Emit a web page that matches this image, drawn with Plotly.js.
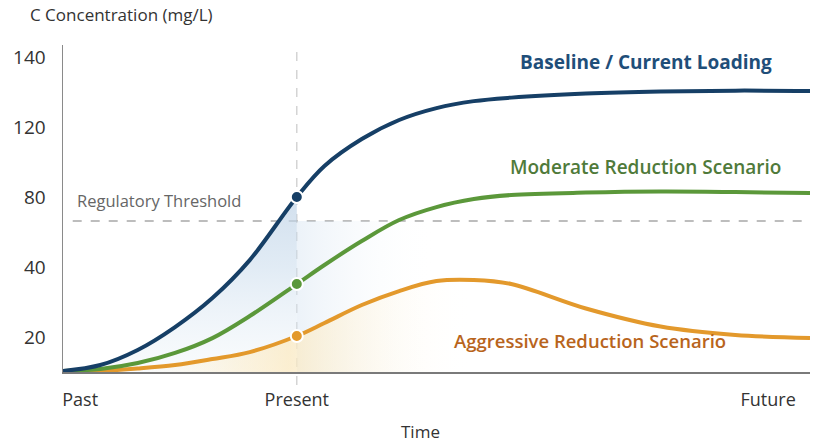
<!DOCTYPE html>
<html>
<head>
<meta charset="utf-8">
<script src="https://cdn.plot.ly/plotly-3.0.1.min.js"></script>
<style>
html,body{margin:0;padding:0;background:#fff;}
#chart{width:815px;height:443px;}
</style>
</head>
<body>
<div id="chart"></div>
<script>
// Time positions (0 = Past, 100 = right end of the time axis); Present = 31.3
const presentX = 31.3;
const time       = [0, 5, 10, 15, 20, 25, 31.3, 35, 40, 45, 50, 55, 60, 70, 80, 90, 100];
const baseline   = [0.6, 4.0, 12.6, 25.7, 42.3, 64.0, 100.1, 117.8, 133.2, 144.1, 150.9, 154.9, 156.9, 159.2, 160.4, 160.9, 160.7];
const moderate   = [0.6, 1.7, 5.1, 10.9, 19.4, 32.0, 50.3, 61.2, 74.9, 86.9, 94.3, 98.9, 101.2, 102.6, 103.2, 102.9, 102.3];
const aggressive = [0, 0.6, 2.0, 4.0, 7.4, 11.4, 20.6, 28.0, 38.3, 46.3, 52.0, 52.6, 50.3, 36.3, 26.0, 21.2, 19.4];

const thresholdY = 86.3;

const yTickVals = [20, 60, 100, 140, 180];
const yTickText = ['20', '40', '80', '120', '140'];
const xTickVals = [2.3, 31.3, 94.4];
const xTickText = ['Past', 'Present', 'Future'];

const blue = '#163f66', green = '#5b983a', orange = '#e3992c';
const presentIdx = time.indexOf(presentX);

function between(xs, ys, a, b) {
  const ox = [], oy = [];
  for (let i = 0; i < xs.length; i++) if (xs[i] >= a && xs[i] <= b) { ox.push(xs[i]); oy.push(ys[i]); }
  return [ox, oy];
}

const [bfx, bfy] = between(time, baseline, 0, presentX);
const fillBlue = {
  x: bfx, y: bfy, type: 'scatter', mode: 'none', fill: 'tozeroy', line: {shape: 'spline', smoothing: 1},
  fillgradient: {type: 'vertical', colorscale: [[0, 'rgba(235,242,248,0.3)'], [0.6, 'rgba(205,222,238,0.6)'], [1, 'rgba(190,210,230,0.7)']]},
  hoverinfo: 'skip', showlegend: false
};
const hazeBlue = {
  x: [presentX, 50], y: [thresholdY, thresholdY], type: 'scatter', mode: 'none', fill: 'tozeroy',
  fillgradient: {type: 'horizontal', colorscale: [[0, 'rgba(210,225,240,0.42)'], [1, 'rgba(255,255,255,0)']]},
  hoverinfo: 'skip', showlegend: false
};
const [ofx, ofy] = between(time, aggressive, 10, 55);
const fillOrange = {
  x: ofx, y: ofy, type: 'scatter', mode: 'none', fill: 'tozeroy', line: {shape: 'spline', smoothing: 1},
  fillgradient: {type: 'horizontal', colorscale: [[0, 'rgba(253,236,196,0)'], [0.45, 'rgba(253,232,185,0.65)'], [1, 'rgba(255,255,255,0)']]},
  hoverinfo: 'skip', showlegend: false
};

function lineTrace(y, color) {
  return {x: time, y: y, type: 'scatter', mode: 'lines',
    line: {color: color, width: 4, shape: 'spline', smoothing: 1},
    hoverinfo: 'skip', showlegend: false};
}
function markerTrace(y, color) {
  return {x: [presentX], y: [y[presentIdx]], type: 'scatter', mode: 'markers',
    marker: {color: color, size: 12, line: {color: '#fff', width: 2}},
    hoverinfo: 'skip', showlegend: false};
}

const data = [
  hazeBlue, fillBlue, fillOrange,
  lineTrace(aggressive, orange),
  lineTrace(moderate, green),
  lineTrace(baseline, blue),
  markerTrace(aggressive, orange),
  markerTrace(moderate, green),
  markerTrace(baseline, blue)
];

const layout = {
  width: 815, height: 443,
  margin: {l: 63, r: 5, t: 45, b: 71},
  paper_bgcolor: '#fff', plot_bgcolor: '#fff',
  font: {family: 'Open Sans, sans-serif', color: '#333'},
  showlegend: false,
  xaxis: {
    range: [0, 100], showgrid: false, zeroline: false,
    showline: true, linecolor: '#7a7a7a', linewidth: 1.5,
    tickvals: xTickVals, ticktext: xTickText, ticks: '',
    ticklabelstandoff: 11, tickfont: {size: 18, color: '#333'},
    fixedrange: true
  },
  yaxis: {
    range: [0, 187], showgrid: false, zeroline: false,
    showline: true, linecolor: '#8a8a8a', linewidth: 1.5,
    tickvals: yTickVals, ticktext: yTickText, ticks: '',
    ticklabelstandoff: 12, tickfont: {size: 19, color: '#333'},
    fixedrange: true
  },
  shapes: [
    {type: 'line', xref: 'x', yref: 'paper', x0: presentX, x1: presentX, y0: -0.04, y1: 1,
     line: {color: '#c9c9c9', width: 1.2, dash: 'dash'}, layer: 'below'},
    {type: 'line', xref: 'x', yref: 'y', x0: 1.3, x1: 99.7, y0: thresholdY, y1: thresholdY,
     line: {color: '#a8a8a8', width: 1.5, dash: 'dash'}, layer: 'below'}
  ],
  annotations: [
    {xref: 'paper', yref: 'paper', x: -0.047, y: 1.092, xanchor: 'left', yanchor: 'middle',
     text: 'C Concentration (mg/L)', showarrow: false, font: {size: 17, color: '#333'}},
    {xref: 'paper', yref: 'paper', x: 0.478, y: -0.183, xanchor: 'center', yanchor: 'middle',
     text: 'Time', showarrow: false, font: {size: 17, color: '#333'}},
    {xref: 'x', yref: 'y', x: 1.6, y: 98.3, xanchor: 'left', yanchor: 'middle',
     text: 'Regulatory Threshold', showarrow: false, font: {size: 16.5, color: '#666'}},
    {xref: 'x', yref: 'y', x: 78, y: 177.2, xanchor: 'center', yanchor: 'middle',
     text: '<b>Baseline / Current Loading</b>', showarrow: false, font: {size: 19, color: '#1f4e79'}},
    {xref: 'x', yref: 'y', x: 78, y: 117.2, xanchor: 'center', yanchor: 'middle',
     text: 'Moderate Reduction Scenario', showarrow: false, font: {size: 19, color: '#4f7a3a', weight: 600}},
    {xref: 'x', yref: 'y', x: 70.5, y: 18.3, xanchor: 'center', yanchor: 'middle',
     text: 'Aggressive Reduction Scenario', showarrow: false, font: {size: 18.5, color: '#b8641c', weight: 600}},
    {xref: 'x', yref: 'y', x: 100.3, y: 0, ax: -12, ay: 0, axref: 'pixel', ayref: 'pixel',
     text: '', showarrow: true, arrowhead: 2, arrowsize: 1, arrowwidth: 1.5, arrowcolor: '#7a7a7a'}
  ]
};

Plotly.newPlot('chart', data, layout, {displayModeBar: false, staticPlot: true});
</script>
</body>
</html>
